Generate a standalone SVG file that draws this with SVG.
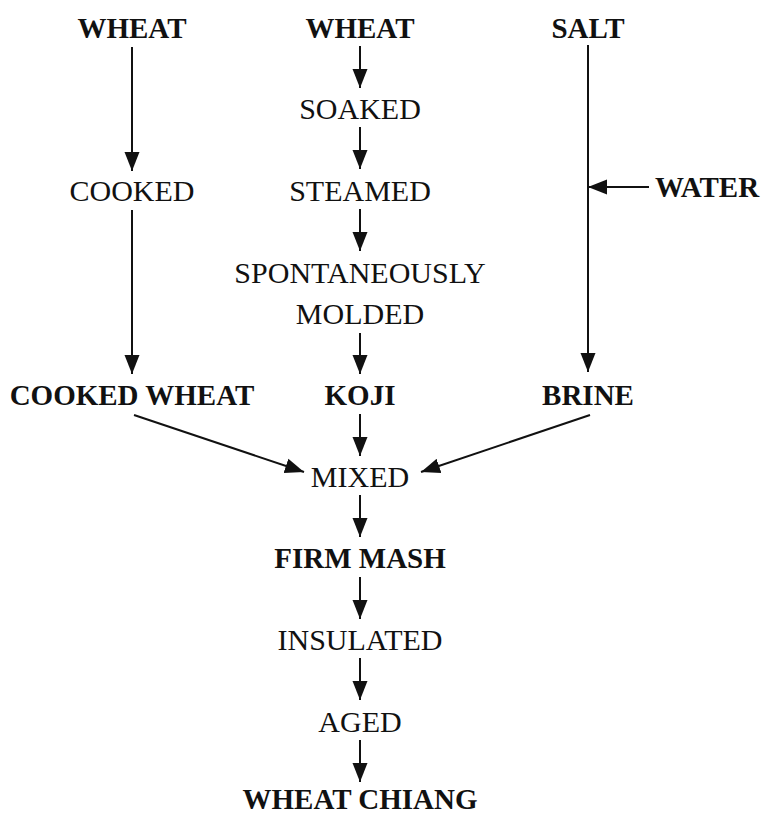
<svg xmlns="http://www.w3.org/2000/svg" width="762" height="814" viewBox="0 0 762 814">
<style>
text{font-family:"Liberation Serif","Times New Roman",serif;font-size:30px;fill:#111;text-anchor:middle}
.b{font-weight:bold;font-size:29px}
.c line{stroke:#111;stroke-width:2;marker-end:url(#ah)}
</style>
<defs>
<marker id="ah" markerUnits="userSpaceOnUse" markerWidth="20" markerHeight="16" refX="19" refY="8" orient="auto">
<path d="M0,0.5 L19,8 L0,15.5 Z" fill="#111"/>
</marker>
</defs>
<rect width="762" height="814" fill="#fff"/>
<g id="n-wheat1"><text class="b" x="132" y="38">WHEAT</text></g>
<g id="n-wheat2"><text class="b" x="360" y="38">WHEAT</text></g>
<g id="n-salt"><text class="b" x="588" y="38">SALT</text></g>
<g id="n-soaked"><text x="360" y="119">SOAKED</text></g>
<g id="n-cooked"><text x="132" y="201">COOKED</text></g>
<g id="n-steamed"><text x="360" y="201">STEAMED</text></g>
<g id="n-water"><text class="b" x="707" y="197">WATER</text></g>
<g id="n-molded"><text x="360" y="283">SPONTANEOUSLY</text><text x="360" y="324">MOLDED</text></g>
<g id="n-cookedwheat"><text class="b" x="132" y="405">COOKED WHEAT</text></g>
<g id="n-koji"><text class="b" x="360" y="405">KOJI</text></g>
<g id="n-brine"><text class="b" x="588" y="405">BRINE</text></g>
<g id="n-mixed"><text x="360" y="487">MIXED</text></g>
<g id="n-firmmash"><text class="b" x="360" y="568">FIRM MASH</text></g>
<g id="n-insulated"><text x="360" y="650">INSULATED</text></g>
<g id="n-aged"><text x="360" y="732">AGED</text></g>
<g id="n-chiang"><text class="b" x="360" y="809">WHEAT CHIANG</text></g>
<g id="connectors" class="c">
<line x1="132" y1="47" x2="132" y2="171"/>
<line x1="132" y1="210" x2="132" y2="374"/>
<line x1="360" y1="46" x2="360" y2="88"/>
<line x1="360" y1="127" x2="360" y2="169"/>
<line x1="360" y1="209" x2="360" y2="251"/>
<line x1="360" y1="333" x2="360" y2="374"/>
<line x1="588" y1="45" x2="588" y2="372"/>
<line x1="649" y1="187" x2="588" y2="187"/>
<line x1="134" y1="415" x2="304" y2="472"/>
<line x1="590" y1="415" x2="421" y2="472"/>
<line x1="360" y1="414" x2="360" y2="456"/>
<line x1="360" y1="495" x2="360" y2="537"/>
<line x1="360" y1="577" x2="360" y2="619"/>
<line x1="360" y1="658" x2="360" y2="700"/>
<line x1="360" y1="740" x2="360" y2="782"/>
</g>
</svg>
